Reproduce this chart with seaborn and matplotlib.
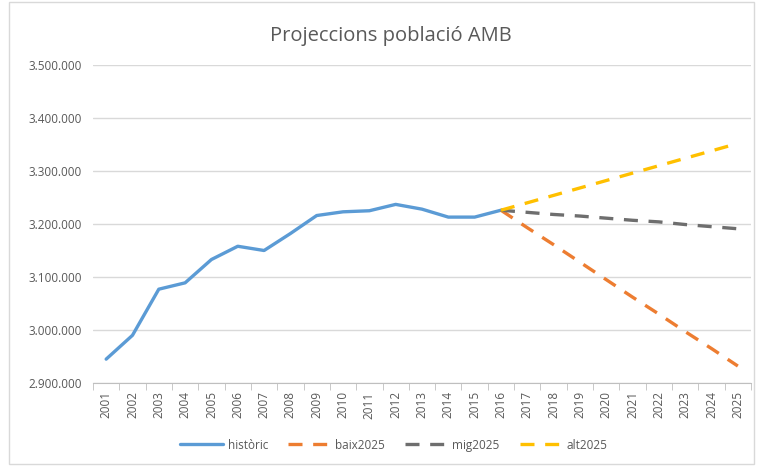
import numpy as np
import pandas as pd
import seaborn as sns
import matplotlib.pyplot as plt
from matplotlib.ticker import FuncFormatter, FixedLocator
from matplotlib.patches import Rectangle

years = [str(y) for y in range(2001, 2026)]

historic = [2945000, 2990000, 3077000, 3089000, 3133000, 3158000, 3150000, 3182000,
            3216000, 3223000, 3225000, 3237000, 3228000, 3213000, 3213000, 3226000]
baix2025 = [3226000, 3193000, 3161000, 3128000, 3095000, 3062000, 3030000, 2997000,
            2965000, 2932000]
mig2025 = [3226000, 3222000, 3218000, 3215000, 3211000, 3207000, 3204000, 3199000,
           3195000, 3191000]
alt2025 = [3226000, 3240000, 3254000, 3268000, 3282000, 3296000, 3310000, 3324000,
           3338000, 3352000]

series = {
    "històric": historic,
    "baix2025": baix2025,
    "mig2025": mig2025,
    "alt2025": alt2025,
}
colors = {"històric": "#5B9BD5", "baix2025": "#ED7D31", "mig2025": "#6E6E6E", "alt2025": "#FFC000"}

rows = []
for name, vals in series.items():
    start = 0 if name == "històric" else 15
    for i, v in enumerate(vals):
        rows.append({"idx": start + i, "valor": v, "serie": name})
df = pd.DataFrame(rows)

sns.set_style("white")
plt.rcParams['font.family'] = ['Open Sans', 'DejaVu Sans']

fig = plt.figure(figsize=(7.58, 4.66), dpi=100)
ax = fig.add_axes([93 / 758, 1 - 383 / 466, (751 - 93) / 758, (383 - 65) / 466])

for name in series:
    sub = df[df["serie"] == name]
    sns.lineplot(data=sub, x="idx", y="valor", ax=ax, color=colors[name],
                 linewidth=2.4, label=name, dashes=False)
    if name != "històric":
        ax.lines[-1].set_dashes([4.2, 3.2])
        ax.lines[-1].set_dash_capstyle("butt")

ax.set_xlim(-0.5, len(years) - 0.5)
ax.set_ylim(2900000, 3500000)
ax.set_yticks(np.arange(2900000, 3500001, 100000))
ax.yaxis.set_major_formatter(FuncFormatter(lambda v, p: f"{int(v):,}".replace(",", ".")))
ax.set_xticks(range(len(years)))
ax.set_xticklabels(years, rotation=90)
ax.xaxis.set_minor_locator(FixedLocator(np.arange(-0.5, len(years), 1)))
ax.tick_params(axis="x", which="major", length=0, pad=6, labelsize=8.5, labelcolor="#595959")
ax.tick_params(axis="x", which="minor", length=5, color="#BFBFBF", bottom=True)
ax.tick_params(axis="y", length=0, pad=8, labelsize=8.5, labelcolor="#595959")
ax.grid(axis="y", color="#D9D9D9", linewidth=1)
ax.set_axisbelow(True)
for s in ["top", "right", "left"]:
    ax.spines[s].set_visible(False)
ax.spines["bottom"].set_color("#BFBFBF")
ax.set_xlabel("")
ax.set_ylabel("")

ax.set_title("Projeccions població AMB", fontsize=14.5, color="#595959", pad=17,
             x=(391 - 93) / 658)

handles, labels = ax.get_legend_handles_labels()
ax.legend(handles, labels, loc="center", bbox_to_anchor=((394 - 93) / 658, -0.195), ncol=4,
          frameon=False, fontsize=8.5, labelcolor="#595959", handlelength=3.6,
          columnspacing=1.7, handletextpad=0.4)

fig.patches.append(Rectangle((0.012, 0.005), 0.983, 0.99, transform=fig.transFigure,
                             fill=False, edgecolor="#D9D9D9", linewidth=1))

fig.savefig("out.png", dpi=100)
